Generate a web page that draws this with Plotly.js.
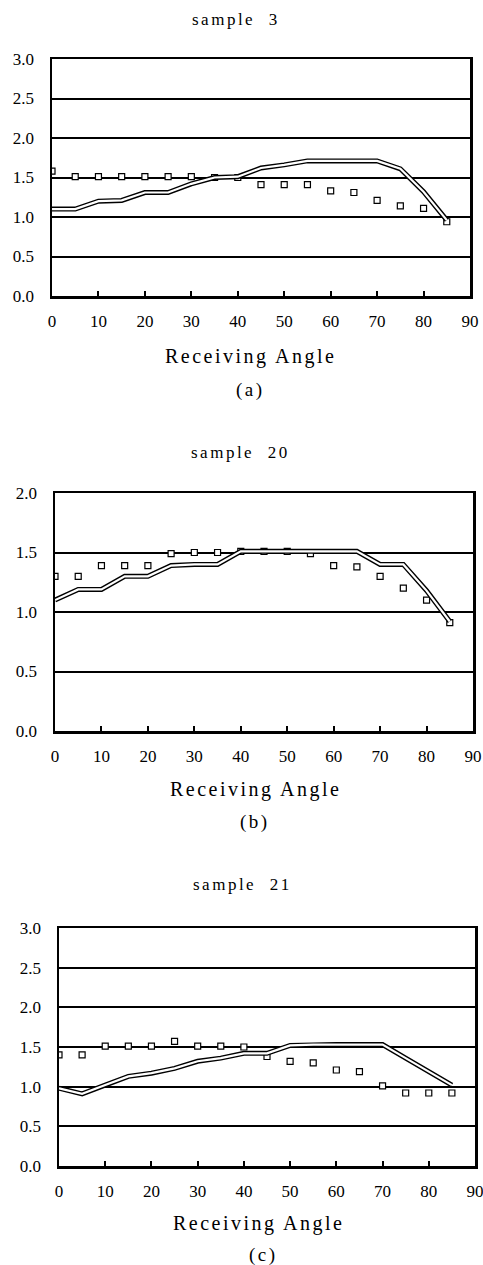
<!DOCTYPE html>
<html>
<head>
<meta charset="utf-8">
<script src="https://cdn.plot.ly/plotly-3.0.1.min.js"></script>
<style>
  html, body { margin: 0; padding: 0; background: #fff; }
  #chart { width: 483px; height: 1265px; }
  #chart svg text { font-family: "Liberation Serif", "Times New Roman", Times, serif !important; }
  .annotation-text { letter-spacing: 2.5px; }
</style>
</head>
<body>
<div id="chart"></div>
<script>
// ---- data ----
const angles = [0, 5, 10, 15, 20, 25, 30, 35, 40, 45, 50, 55, 60, 65, 70, 75, 80, 85];

const s3Markers  = [1.58, 1.51, 1.51, 1.51, 1.51, 1.51, 1.51, 1.5, 1.5, 1.41, 1.41, 1.41, 1.33, 1.31, 1.21, 1.14, 1.11, 0.94];
const s3Line     = [1.10, 1.10, 1.20, 1.21, 1.31, 1.31, 1.42, 1.50, 1.51, 1.62, 1.66, 1.71, 1.71, 1.71, 1.71, 1.61, 1.32, 0.96];

const s20Markers = [1.30, 1.30, 1.39, 1.39, 1.39, 1.49, 1.50, 1.50, 1.51, 1.51, 1.51, 1.49, 1.39, 1.38, 1.30, 1.20, 1.10, 0.91];
const s20Line    = [1.10, 1.19, 1.19, 1.30, 1.30, 1.39, 1.40, 1.40, 1.51, 1.51, 1.51, 1.51, 1.51, 1.51, 1.40, 1.40, 1.18, 0.92];

const s21Markers = [1.40, 1.40, 1.51, 1.51, 1.51, 1.57, 1.51, 1.51, 1.50, 1.38, 1.32, 1.30, 1.21, 1.19, 1.01, 0.92, 0.92, 0.92];
const s21Line    = [0.98, 0.91, 1.02, 1.13, 1.17, 1.23, 1.32, 1.36, 1.42, 1.42, 1.52, 1.53, 1.53, 1.53, 1.53, 1.36, 1.19, 1.02];

const panelTitles = ["sample\u00a0\u00a03", "sample\u00a0\u00a020", "sample\u00a0\u00a021"];
const panelLabels = ["(a)", "(b)", "(c)"];
const xAxisTitle = "Receiving Angle";
const yMax = [3, 2, 3];

// ---- layout helpers ----
const W = 483, H = 1265;
const px = x => x / W;
const py = y => 1 - y / H;

const serif = "Liberation Serif, Times New Roman, serif";

const panels = [
  {markers: s3Markers,  line: s3Line,  xd: [52, 470], yd: [59, 296],  title: [236, 19],  xt: [251, 357],  lab: [250, 390]},
  {markers: s20Markers, line: s20Line, xd: [55, 473], yd: [493, 731], title: [240, 453], xt: [255, 790],  lab: [255, 822]},
  {markers: s21Markers, line: s21Line, xd: [59, 475], yd: [928, 1166], title: [242, 884], xt: [258, 1223], lab: [263, 1255]}
];

const data = [];
const layout = {
  width: W, height: H,
  margin: {l: 0, r: 0, t: 0, b: 0},
  paper_bgcolor: "#fff", plot_bgcolor: "#fff",
  showlegend: false,
  font: {family: serif, color: "#000", size: 17},
  annotations: []
};

panels.forEach((p, i) => {
  const n = i === 0 ? "" : String(i + 1);
  const xa = "x" + n, ya = "y" + n;
  data.push({x: angles, y: p.markers, xaxis: xa, yaxis: ya, type: "scatter", mode: "markers",
    marker: {symbol: "square", size: 6, color: "#fff", line: {color: "#000", width: 1.2}}});
  data.push({x: angles, y: p.line, xaxis: xa, yaxis: ya, type: "scatter", mode: "lines",
    line: {color: "#000", width: 5}});
  data.push({x: angles, y: p.line, xaxis: xa, yaxis: ya, type: "scatter", mode: "lines",
    line: {color: "#fff", width: 2.2}});

  layout["xaxis" + n] = {
    domain: [px(p.xd[0]), px(p.xd[1])], anchor: ya,
    range: [0, 90], dtick: 10, tick0: 0,
    ticks: "inside", ticklen: 5, tickwidth: 2, tickcolor: "#000",
    showline: true, linewidth: 2.5, linecolor: "#000", mirror: true,
    showgrid: false, zeroline: false, fixedrange: true,
    ticklabelstandoff: 8, ticklabeloverflow: "allow",
    tickfont: {family: serif, size: 17, color: "#000"}
  };
  layout["yaxis" + n] = {
    domain: [py(p.yd[1]), py(p.yd[0])], anchor: xa,
    range: [0, yMax[i]], dtick: 0.5, tick0: 0, tickformat: ".1f",
    ticks: "", showline: true, linewidth: 2.5, linecolor: "#000", mirror: true,
    showgrid: true, gridcolor: "#000", gridwidth: 2, zeroline: false, fixedrange: true,
    ticklabelstandoff: 12, ticklabeloverflow: "allow",
    tickfont: {family: serif, size: 17, color: "#000"}
  };

  layout.annotations.push(
    {text: panelTitles[i], xref: "paper", yref: "paper", x: px(p.title[0]), y: py(p.title[1]),
     xanchor: "center", yanchor: "middle", showarrow: false, font: {family: serif, size: 17, color: "#000"}},
    {text: xAxisTitle, xref: "paper", yref: "paper", x: px(p.xt[0]), y: py(p.xt[1]),
     xanchor: "center", yanchor: "middle", showarrow: false, font: {family: serif, size: 20, color: "#000"}},
    {text: panelLabels[i], xref: "paper", yref: "paper", x: px(p.lab[0]), y: py(p.lab[1]),
     xanchor: "center", yanchor: "middle", showarrow: false, font: {family: serif, size: 19, color: "#000"}}
  );
});

Plotly.newPlot("chart", data, layout, {staticPlot: true, displayModeBar: false});
</script>
</body>
</html>
